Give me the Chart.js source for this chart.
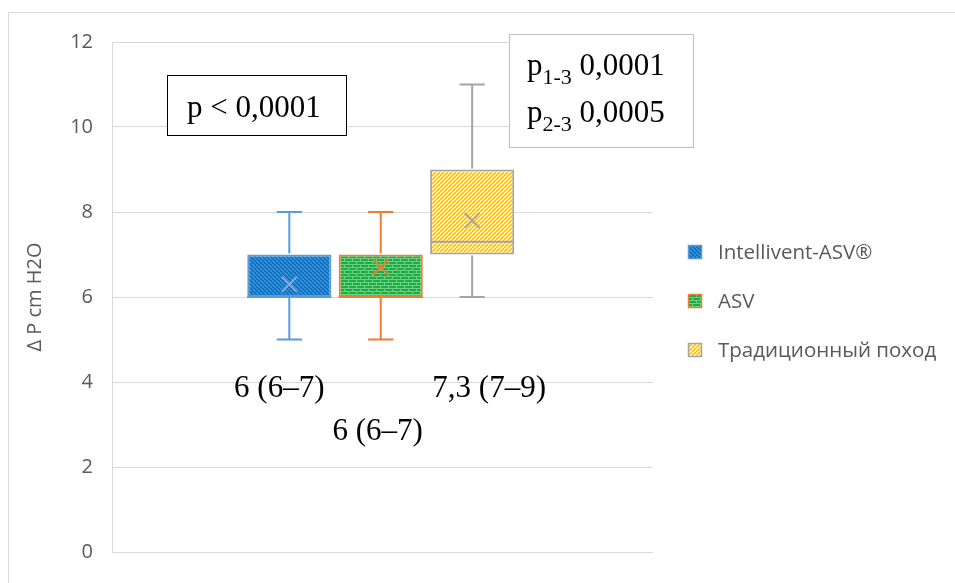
<!DOCTYPE html>
<html>
<head>
<meta charset="utf-8">
<script src="https://cdn.jsdelivr.net/npm/chart.js@4"></script>
<style>
  html, body { margin: 0; padding: 0; background: #fff; }
  #wrap { width: 955px; height: 583px; position: relative; }
</style>
</head>
<body>
<div id="wrap"><canvas id="c" width="955" height="583"></canvas></div>
<script>
// Series names
const seriesNames = ['Intellivent-ASV®', 'ASV', 'Традиционный поход'];
// Five-number summaries and means (ΔP, cm H2O)
const whiskerMin = [5, 5, 6];
const quartile1  = [6, 6, 7];
const medians    = [6, 6, 7.3];
const quartile3  = [7, 7, 9];
const whiskerMax = [8, 8, 11];
const means      = [6.3, 6.7, 7.8];
// Axis
const yTicks = [0, 2, 4, 6, 8, 10, 12];
const yTitle = 'Δ P cm H2O';
// Statistics captions
const pOverall = 'p < 0,0001';
const pPairs = [['1-3', '0,0001'], ['2-3', '0,0005']];

const edgeColors = ['#5B9BD5', '#ED7D31', '#A5A5A5'];
const meanColors = ['#86ADD8', '#ED7D31', '#A5A5A5'];

function fmt(v) { return String(v).replace('.', ','); }

// Fill patterns
function stripePattern(bg, fg, dir, step, lw) {
  const c = document.createElement('canvas');
  c.width = step; c.height = step;
  const g = c.getContext('2d');
  g.fillStyle = bg; g.fillRect(0, 0, step, step);
  g.strokeStyle = fg; g.lineWidth = lw;
  g.beginPath();
  for (let k = -1; k <= 1; k++) {
    if (dir > 0) { g.moveTo(k * step, step); g.lineTo(k * step + step, 0); }
    else { g.moveTo(k * step, 0); g.lineTo(k * step + step, step); }
  }
  g.stroke();
  return c;
}
function brickPattern(bg, fg) {
  const c = document.createElement('canvas');
  c.width = 8; c.height = 6;
  const g = c.getContext('2d');
  g.fillStyle = bg; g.fillRect(0, 0, 8, 6);
  g.fillStyle = fg;
  g.fillRect(0, 0, 8, 1);
  g.fillRect(0, 3, 8, 1);
  g.fillRect(0, 0, 1, 3);
  g.fillRect(4, 3, 1, 3);
  return c;
}
const ctx0 = document.getElementById('c').getContext('2d');
const tiles = [
  stripePattern('#0A6DBE', '#3C95DC', -1, 4, 1.4),
  brickPattern('#22AA44', '#6AD285'),
  stripePattern('#FFFFFF', '#FFC000', 1, 4, 1.6)
];
const fills = tiles.map(t => ctx0.createPattern(t, 'repeat'));

const datasets = seriesNames.map((name, i) => ({
  label: name,
  data: [{ x: 0, y: [quartile1[i], quartile3[i]] }],
  backgroundColor: fills[i],
  borderColor: edgeColors[i],
  borderWidth: 2,
  borderSkipped: false,
  categoryPercentage: 0.507,
  barPercentage: 0.92
}));

const serif = '"Liberation Serif", "Times New Roman", serif';

// Whiskers, medians, means, captions, legend and frame
const boxExtras = {
  id: 'boxExtras',
  beforeDraw(chart) {
    const c = chart.ctx;
    c.save();
    c.strokeStyle = '#D9D9D9';
    c.lineWidth = 1;
    c.beginPath();
    c.moveTo(8.5, 700); c.lineTo(8.5, 12.5); c.lineTo(1000, 12.5);
    c.stroke();
    c.restore();
  },
  afterDatasetsDraw(chart) {
    const c = chart.ctx;
    const y = chart.scales.y;
    c.save();
    datasets.forEach((ds, i) => {
      const bar = chart.getDatasetMeta(i).data[0];
      const x = bar.x, w = bar.width;
      const cap = w * 0.3;
      c.strokeStyle = edgeColors[i];
      c.lineWidth = 2;
      const yMin = y.getPixelForValue(whiskerMin[i]);
      const yQ1 = y.getPixelForValue(quartile1[i]);
      const yQ3 = y.getPixelForValue(quartile3[i]);
      const yMax = y.getPixelForValue(whiskerMax[i]);
      const yMed = y.getPixelForValue(medians[i]);
      c.beginPath();
      c.moveTo(x, yQ1 + 1); c.lineTo(x, yMin);
      c.moveTo(x - cap / 2, yMin); c.lineTo(x + cap / 2, yMin);
      c.moveTo(x, yQ3 - 1); c.lineTo(x, yMax);
      c.moveTo(x - cap / 2, yMax); c.lineTo(x + cap / 2, yMax);
      c.moveTo(x - w / 2, yMed); c.lineTo(x + w / 2, yMed);
      c.stroke();
      // mean marker
      const ym = y.getPixelForValue(means[i]);
      const s = 7.5;
      c.strokeStyle = meanColors[i];
      c.lineWidth = 1.8;
      c.beginPath();
      c.moveTo(x - s, ym - s); c.lineTo(x + s, ym + s);
      c.moveTo(x + s, ym - s); c.lineTo(x - s, ym + s);
      c.stroke();
    });

    // median (Q1–Q3) captions
    c.fillStyle = '#000';
    c.font = '31px ' + serif;
    c.textAlign = 'center';
    c.textBaseline = 'alphabetic';
    const capPos = [[-10, 397], [-3, 440], [17, 397]];
    datasets.forEach((ds, i) => {
      const bar = chart.getDatasetMeta(i).data[0];
      const txt = fmt(medians[i]) + ' (' + fmt(quartile1[i]) + '–' + fmt(quartile3[i]) + ')';
      c.fillText(txt, bar.x + capPos[i][0], capPos[i][1]);
    });

    // overall p value box
    c.textAlign = 'left';
    c.fillStyle = '#fff';
    c.fillRect(167, 75, 179, 60);
    c.strokeStyle = '#000';
    c.lineWidth = 1;
    c.strokeRect(167.5, 75.5, 179, 60);
    c.fillStyle = '#000';
    c.font = '31px ' + serif;
    c.fillText(pOverall, 187, 117);

    // pairwise p value box
    c.fillStyle = '#fff';
    c.fillRect(509, 34, 184, 113);
    c.strokeStyle = '#BFBFBF';
    c.strokeRect(509.5, 34.5, 184, 113);
    c.fillStyle = '#000';
    pPairs.forEach((p, k) => {
      const base = 75 + k * 47;
      let px = 527;
      c.font = '31px ' + serif;
      c.fillText('p', px, base);
      px += c.measureText('p').width;
      c.font = '22px ' + serif;
      c.fillText(p[0], px, base + 9);
      px += c.measureText(p[0]).width;
      c.font = '31px ' + serif;
      c.fillText(' ' + p[1], px, base);
    });

    // legend
    c.font = '20.5px "Open Sans", sans-serif';
    c.textBaseline = 'middle';
    seriesNames.forEach((name, i) => {
      const cy = 252 + i * 49;
      c.fillStyle = fills[i];
      c.fillRect(688, cy - 7, 14, 14);
      c.strokeStyle = edgeColors[i];
      c.lineWidth = 1.5;
      c.strokeRect(688.5, cy - 6.5, 13, 13);
      c.fillStyle = '#595959';
      c.fillText(name, 718, cy + 1);
    });
    c.restore();
  }
};

new Chart(document.getElementById('c'), {
  type: 'bar',
  data: { datasets },
  options: {
    responsive: false,
    animation: false,
    layout: { padding: { left: 8, top: 42, right: 302, bottom: 23 } },
    plugins: { legend: { display: false }, tooltip: { enabled: false } },
    scales: {
      x: {
        type: 'linear', display: false,
        min: -0.4935, max: 0.5065,
        afterBuildTicks(scale) { scale.ticks = [{ value: 0 }]; }
      },
      y: {
        min: 0, max: 12,
        afterFit(scale) { scale.width = 104; },
        afterBuildTicks(scale) { scale.ticks = yTicks.map(v => ({ value: v })); },
        ticks: { color: '#595959', font: { family: 'Open Sans', size: 20 }, padding: 19 },
        grid: { color: '#D9D9D9', drawTicks: false, lineWidth: 1 },
        border: { display: true, color: '#D9D9D9' },
        title: {
          display: true, text: yTitle, color: '#595959',
          font: { family: 'Open Sans', size: 20 },
          padding: { top: 15, bottom: 0 }
        }
      }
    }
  },
  plugins: [boxExtras]
});
</script>
</body>
</html>
